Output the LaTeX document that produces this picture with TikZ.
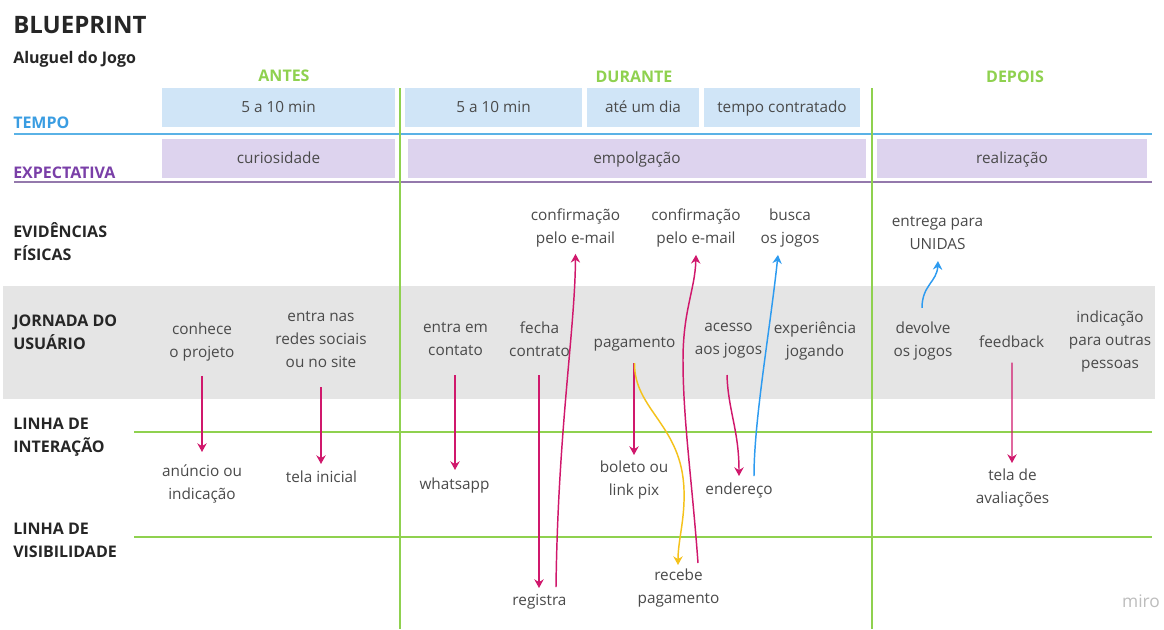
\documentclass[tikz,border=0pt]{standalone}
\usepackage{fontspec}
\setmainfont{Open Sans}
\usetikzlibrary{calc,arrows.meta}

\definecolor{inkdark}{HTML}{262626}
\definecolor{inkbody}{HTML}{4A4A4A}
\definecolor{phasegreen}{HTML}{8FD14F}
\definecolor{tempoblue}{HTML}{3A9DE2}
\definecolor{tempoline}{HTML}{5AB2E6}
\definecolor{expurple}{HTML}{7A3FA8}
\definecolor{expline}{HTML}{9479AC}
\definecolor{tempofill}{HTML}{D0E5F7}
\definecolor{expfill}{HTML}{DDD3EE}
\definecolor{bandgray}{HTML}{E5E5E5}
\definecolor{flowpink}{HTML}{D0186C}
\definecolor{flowyellow}{HTML}{F5C21B}
\definecolor{flowblue}{HTML}{2D9BF0}
\definecolor{markgray}{HTML}{BDBDBD}

\tikzset{
  bodytext/.style={font=\fontsize{11.5}{17.25}\selectfont, text=inkbody, align=center,
    inner sep=0pt, execute at begin node=\strut, execute at end node=\strut},
  rowhead/.style={font=\fontsize{12}{17.25}\selectfont\bfseries, text=inkdark, align=left,
    anchor=west, inner sep=0pt, execute at begin node=\strut, execute at end node=\strut},
  phasehead/.style={font=\fontsize{12}{14}\selectfont\bfseries, text=phasegreen,
    anchor=base, inner sep=0pt},
  flow/.style={draw=flowpink, line width=1.1pt, -{Stealth[length=6.5pt,width=7pt]}},
  flowy/.style={flow, draw=flowyellow},
  flowb/.style={flow, draw=flowblue},
  gridline/.style={draw=phasegreen, line width=1.3pt},
}

\begin{document}
\begin{tikzpicture}[x=0.75pt,y=-0.75pt]
\useasboundingbox (0,0) rectangle (1164,629);
\fill[white] (0,0) rectangle (1164,629);

% journey band
\fill[bandgray] (3,286) rectangle (1155,399);

% time and expectation cells
\fill[tempofill] (162,88) rectangle (395,127);
\fill[tempofill] (405,88) rectangle (582,127);
\fill[tempofill] (587,88) rectangle (699,127);
\fill[tempofill] (704,88) rectangle (860,127);
\fill[expfill] (162,139) rectangle (395,178);
\fill[expfill] (408,139) rectangle (866,178);
\fill[expfill] (877,139) rectangle (1147,178);

% row rules
\draw[tempoline, line width=1.3pt] (14,134) -- (1152,134);
\draw[expline, line width=1.3pt] (14,182) -- (1152,182);
\draw[gridline] (134,432) -- (1152,432);
\draw[gridline] (134,537) -- (1152,537);
\draw[gridline] (400,88) -- (400,629);
\draw[gridline] (872,88) -- (872,629);

% titles
\node[anchor=base west, inner sep=0pt, font=\fontsize{18}{20}\selectfont\bfseries, text=inkdark]
  (title) at (13,33) {BLUEPRINT};
\node[anchor=base west, inner sep=0pt, font=\fontsize{12}{14}\selectfont\bfseries, text=inkdark]
  (subtitle) at (13,63) {Aluguel do Jogo};

\node[phasehead] (antes) at (284,81) {ANTES};
\node[phasehead] (durante) at (634,82) {DURANTE};
\node[phasehead] (depois) at (1015,82) {DEPOIS};

% row headings
\node[rowhead, text=tempoblue] (hTempo) at (13,123.4) {TEMPO};
\node[rowhead, text=expurple] (hExp) at (13,173.4) {EXPECTATIVA};
\node[rowhead] (hEvid) at (13,244.9) {EVIDÊNCIAS\\FÍSICAS};
\node[rowhead] (hJorn) at (13,336) {JORNADA DO\\USUÁRIO};
\node[rowhead] (hInter) at (13,438.9) {LINHA DE\\INTERAÇÃO};
\node[rowhead] (hVis) at (13,543.9) {LINHA DE\\VISIBILIDADE};

% cell texts
\node[bodytext] (t1) at (278.5,107.5) {5 a 10 min};
\node[bodytext] (t2) at (493.5,107.5) {5 a 10 min};
\node[bodytext] (t3) at (643,107.5) {até um dia};
\node[bodytext] (t4) at (782,107.5) {tempo contratado};
\node[bodytext] (e1) at (278.5,158.5) {curiosidade};
\node[bodytext] (e2) at (637,158.5) {empolgação};
\node[bodytext] (e3) at (1012,158.5) {realização};

% physical evidence
\node[bodytext] (conf1) at (575.5,229.9) {confirmação\\pelo e-mail};
\node[bodytext] (conf2) at (696,229.9) {confirmação\\pelo e-mail};
\node[bodytext] (busca) at (790,229.9) {busca\\os jogos};
\node[bodytext] (entrega) at (937.5,236.7) {entrega para\\UNIDAS};

% user journey
\node[bodytext] (conhece) at (202,343.9) {conhece\\o projeto};
\node[bodytext] (redes) at (321,343) {entra nas\\redes sociais\\ou no site};
\node[bodytext] (contato) at (455.5,342.7) {entra em\\contato};
\node[bodytext] (fecha) at (539.5,342.7) {fecha\\contrato};
\node[bodytext] (pagamento) at (634.5,343) {pagamento};
\node[bodytext] (acesso) at (728.5,342.7) {acesso\\aos jogos};
\node[bodytext] (experiencia) at (815,342.7) {experiência\\jogando};
\node[bodytext] (devolve) at (923,342.9) {devolve\\os jogos};
\node[bodytext] (feedback) at (1011.7,342.7) {feedback};
\node[bodytext] (indicacao) at (1110,342.8) {indicação\\para outras\\pessoas};

% interaction
\node[bodytext] (anuncio) at (202,485.4) {anúncio ou\\indicação};
\node[bodytext] (telainicial) at (321.5,477.4) {tela inicial};
\node[bodytext] (whatsapp) at (454.5,484.7) {whatsapp};
\node[bodytext] (boleto) at (634,481.2) {boleto ou\\link pix};
\node[bodytext] (endereco) at (739,489.4) {endereço};
\node[bodytext] (avaliacoes) at (1012.5,490) {tela de\\avaliações};

% backstage
\node[bodytext] (registra) at (539.5,600.4) {registra};
\node[bodytext] (recebe) at (678.5,589.2) {recebe\\pagamento};

\node[inner sep=0pt, font=\fontsize{13}{15}\selectfont, text=markgray] (miro) at (1141,601) {miro};

% connector end points
\coordinate (sRegistra) at ($(registra)+(16.5,-13.4)$);
\coordinate (eConf1) at ($(conf1)+(0,24)$);
\coordinate (sPag) at ($(pagamento)+(0,20)$);
\coordinate (eRecebe) at ($(recebe)+(-0.5,-24.2)$);
\coordinate (sRecebe) at ($(recebe)+(19.5,-26.2)$);
\coordinate (eConf2) at ($(conf2)+(0,25)$);
\coordinate (sAcesso) at ($(acesso)+(-1.5,32.3)$);
\coordinate (eEndereco) at ($(endereco)+(0,-13.4)$);
\coordinate (sEndereco) at ($(endereco)+(15,-13.4)$);
\coordinate (eBusca) at ($(busca)+(-12,25)$);
\coordinate (sDevolve) at ($(devolve)+(-1,-35)$);
\coordinate (eEntrega) at ($(entrega)+(0.5,24.3)$);

% straight flows
\draw[flow] ($(conhece)+(0,32)$) -- ($(anuncio)+(0,-33.4)$);
\draw[flow] ($(redes)+(0,44)$) -- ($(telainicial)+(-0.5,-13.4)$);
\draw[flow] ($(contato)+(-0.5,32.3)$) -- ($(whatsapp)+(0.5,-14.7)$);
\draw[flow] ($(fecha)+(-0.5,32.3)$) -- ($(registra)+(-0.5,-12.4)$);
\draw[flow] ($(pagamento)+(-0.5,20)$) -- ($(boleto)+(0,-26.2)$);
\draw[flow] ($(feedback)+(0.3,20)$) -- ($(avaliacoes)+(-0.5,-27)$);

% curved flows
\draw[flow] (sRegistra) .. controls (558,430) and (575,330) .. (eConf1);
\draw[flowy] (sPag) .. controls (634,410) and (682,425) .. (684,490)
  .. controls (685,520) and (678,540) .. (eRecebe);
\draw[flow] (sRecebe) .. controls (692,480) and (683,420) .. (683,360)
  .. controls (683,310) and (695,290) .. (eConf2);
\draw[flow] (sAcesso) .. controls (728,410) and (739,430) .. (eEndereco);
\draw[flowb] (sEndereco) .. controls (754,420) and (770,330) .. (eBusca);
\draw[flowb] (sDevolve) .. controls (922,285) and (937,282) .. (eEntrega);
\end{tikzpicture}
\end{document}
